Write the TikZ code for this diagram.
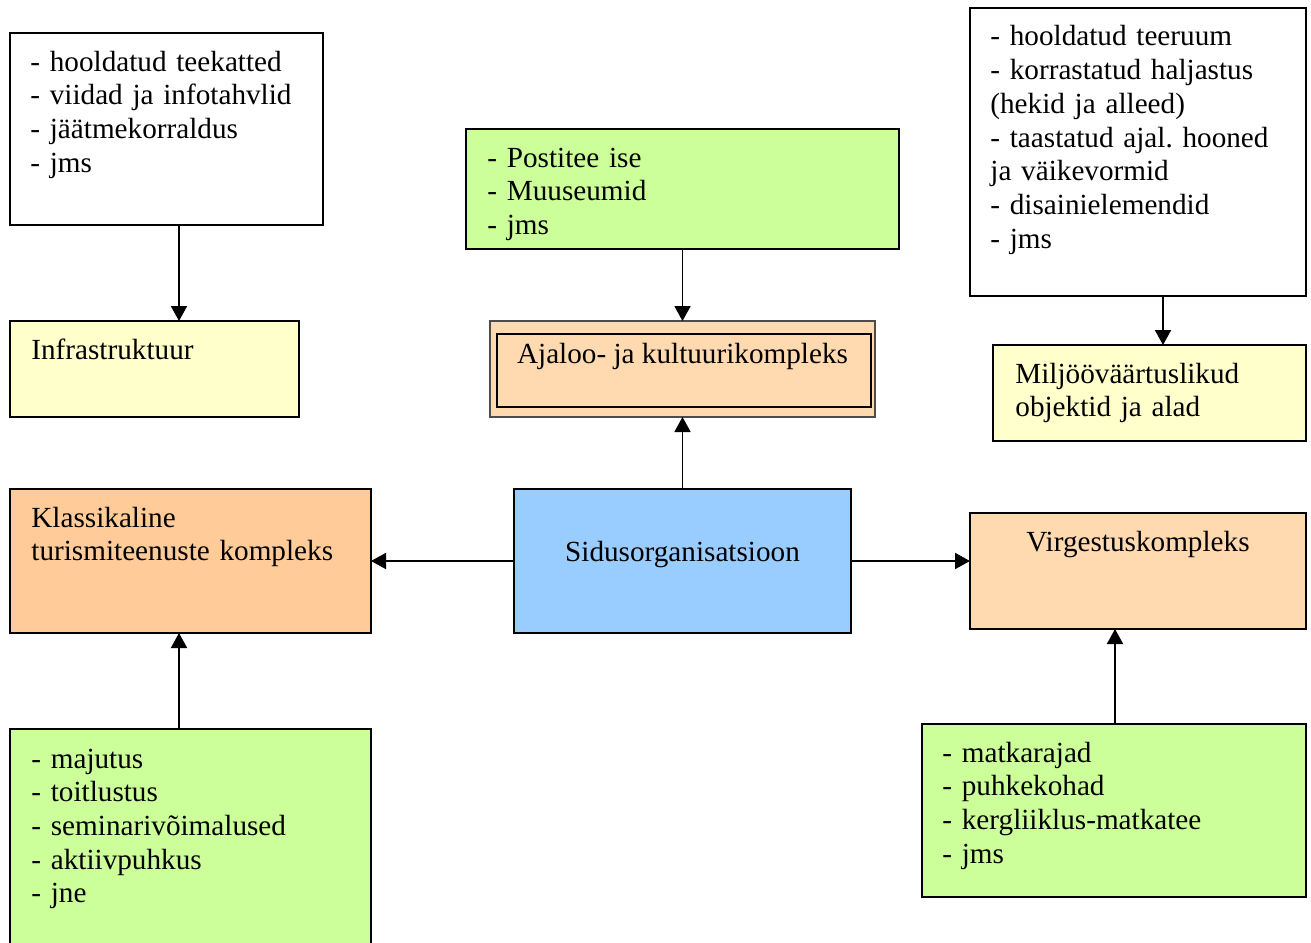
\documentclass[tikz,border=0pt]{standalone}
\usepackage{fontspec}
\setmainfont{Liberation Serif}
\usetikzlibrary{arrows.meta}
\definecolor{cgreen}{HTML}{CCFF99}
\definecolor{cyellow}{HTML}{FFFFCC}
\definecolor{corange}{HTML}{FFCC99}
\definecolor{clight}{HTML}{FFD9B0}
\definecolor{cblue}{HTML}{99CCFF}
\tikzset{
  box/.style={draw=black, line width=1pt, anchor=north west, inner sep=0pt, outer sep=0pt},
  txt/.style={anchor=base west, inner sep=0pt, align=left, text width=#1},
  ctxt/.style={anchor=base, inner sep=0pt, align=center},
  arr/.style={line width=0.9pt, -{Triangle[width=8pt,length=7.5pt]}},
}
\newcommand{\bx}[6]{% name, fill, x1, y1, x2, y2
  \path (#3,#4) coordinate (#1-nw) (#5,#6) coordinate (#1-se);
  \node[box, fill=#2, minimum width={(#5-#3)*0.5pt}, minimum height={(#6-#4)*0.5pt}] (#1) at (#3,#4) {};
}
\begin{document}
\frenchspacing
\begin{tikzpicture}[x=0.5pt, y=-0.5pt, font=\fontsize{14.6pt}{16.85pt}\selectfont\frenchspacing]
\useasboundingbox (0,0) rectangle (1311,942);
% boxes
\bx{tl}{white}{10}{33}{323}{225}
\bx{infra}{cyellow}{10}{321}{299}{417}
\bx{gt}{cgreen}{466}{129}{899}{249}
\bx{ajal}{clight}{490}{321}{875}{417}
\bx{tr}{white}{970}{8}{1306}{296}
\bx{milj}{cyellow}{993}{345}{1306}{441}
\bx{klass}{corange}{10}{489}{371}{633}
\bx{sidus}{cblue}{514}{489}{851}{633}
\bx{virg}{clight}{970}{513}{1306}{629}
\bx{gbl}{cgreen}{10}{729}{371}{960}
\bx{gbr}{cgreen}{922}{724}{1306}{897}
\draw[line width=0.6pt, draw=black!70] (ajal.north west) rectangle (ajal.south east);
\node[draw=black, line width=1.2pt, anchor=north west, inner sep=0pt, minimum width={374*0.5pt}, minimum height={73*0.5pt}] (ajalin) at (496,333) {};
% texts
\node[txt=150pt] (t-tl) at (30,71) {- hooldatud teekatted\\- viidad ja infotahvlid\\- jäätmekorraldus\\- jms};
\node[txt=130pt] (t-infra) at (31,359) {Infrastruktuur};
\node[txt=200pt] (t-gt) at (487,167) {- Postitee ise\\- Muuseumid\\- jms};
\node[ctxt] (t-ajal) at (682.5,363) {Ajaloo- ja kultuurikompleks};
\node[txt=160pt] (t-tr) at (990,46) {- hooldatud teeruum\\- korrastatud haljastus\\(hekid ja alleed)\\- taastatud ajal. hooned\\ja väikevormid\\- disainielemendid\\- jms};
\node[txt=150pt] (t-milj) at (1015,383) {Miljööväärtuslikud\\objektid ja alad};
\node[txt=170pt] (t-klass) at (31,527) {Klassikaline\\turismiteenuste kompleks};
\node[ctxt] (t-sidus) at (682.5,561) {Sidusorganisatsioon};
\node[ctxt] (t-virg) at (1138,551) {Virgestuskompleks};
\node[txt=170pt] (t-gbl) at (31,768) {- majutus\\- toitlustus\\- seminarivõimalused\\- aktiivpuhkus\\- jne};
\node[txt=180pt] (t-gbr) at (942,762) {- matkarajad\\- puhkekohad\\- kergliiklus-matkatee\\- jms};
% connectors
\draw[arr] (tl.south -| 179,0) -- (infra.north -| 179,0);
\draw[arr] (gt.south) -- (ajal.north);
\draw[arr] (tr.south -| 1163,0) -- (milj.north -| 1163,0);
\draw[arr] (sidus.north) -- (ajal.south);
\draw[arr] (sidus.west |- 0,561) -- (klass.east |- 0,561);
\draw[arr] (sidus.east |- 0,561) -- (virg.west |- 0,561);
\draw[arr] (gbl.north -| 179,0) -- (klass.south -| 179,0);
\draw[arr] (gbr.north -| 1115,0) -- (virg.south -| 1115,0);
\end{tikzpicture}
\end{document}
